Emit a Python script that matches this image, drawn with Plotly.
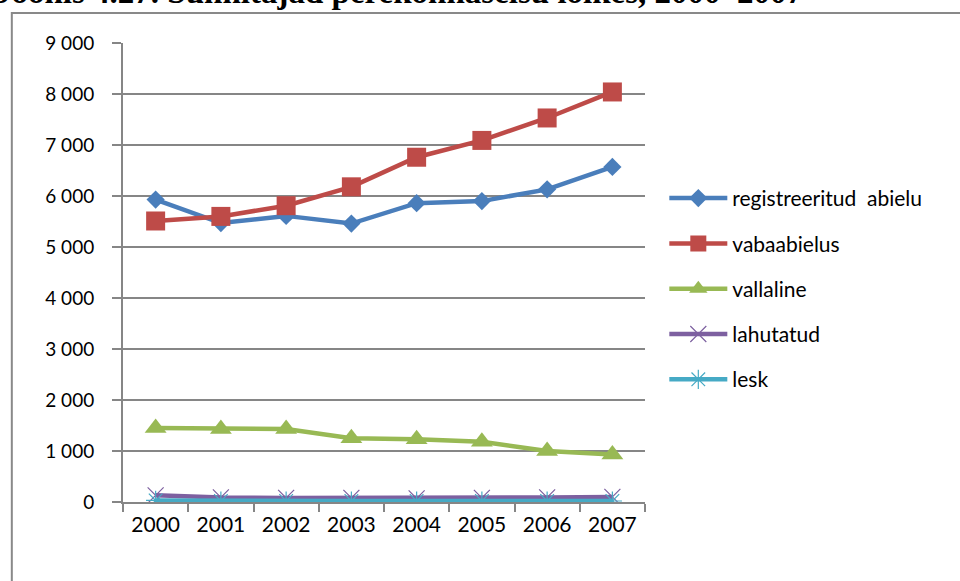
import plotly.graph_objects as go

# Births by mother's marital status, 2000-2007
years = ["2000", "2001", "2002", "2003", "2004", "2005", "2006", "2007"]
registreeritud_abielu = [5930, 5470, 5610, 5460, 5860, 5900, 6130, 6570]
vabaabielus = [5510, 5600, 5810, 6180, 6760, 7090, 7530, 8040]
vallaline = [1450, 1430, 1430, 1250, 1230, 1180, 1000, 930]
lahutatud = [130, 90, 80, 80, 70, 80, 90, 100]
lesk = [30, 20, 20, 20, 20, 20, 20, 20]

y_ticks = [0, 1000, 2000, 3000, 4000, 5000, 6000, 7000, 8000, 9000]
y_tick_text = ["0", "1 000", "2 000", "3 000", "4 000", "5 000", "6 000", "7 000", "8 000", "9 000"]

title_text = "Joonis 4.27. Sünnitajad perekonnaseisu lõikes, 2000–2007"

FONT = "Lato"

series = [
    ("registreeritud  abielu", registreeritud_abielu, "#4A7EBB", dict(symbol="diamond", size=14)),
    ("vabaabielus", vabaabielus, "#BE4B48", dict(symbol="square", size=19)),
    ("vallaline", vallaline, "#98B954", dict(symbol="triangle-up", size=19)),
    ("lahutatud", lahutatud, "#7D60A0", dict(symbol="x-thin-open", size=16, line=dict(width=1.2, color="#9C87BD"))),
    ("lesk", lesk, "#46AAC5", dict(symbol="asterisk-open", size=16, line=dict(width=1.2, color="#46AAC5"))),
]

fig = go.Figure()
for i, (name, vals, color, marker) in enumerate(series):
    m = dict(color=color)
    m.update(marker)
    fig.add_trace(go.Scatter(
        x=years, y=vals, name=name, mode="lines+markers",
        line=dict(color=color, width=4.5),
        marker=m, legendgroup=f"g{i}",
    ))

fig.update_layout(
    width=960, height=581,
    margin=dict(l=123, r=315, t=43, b=79),
    paper_bgcolor="white", plot_bgcolor="white",
    font=dict(family=FONT, size=18, color="#000000"),
    showlegend=True,
    legend=dict(
        x=1.037, y=0.706, xanchor="left", yanchor="top",
        font=dict(family=FONT, size=21, color="#000000"),
        tracegroupgap=15, itemwidth=58,
        bgcolor="rgba(0,0,0,0)",
    ),
    xaxis=dict(
        type="category", showgrid=False, showline=True, linecolor="#868686", linewidth=2,
        ticks="outside", tickson="boundaries", ticklen=8, tickcolor="#868686", tickwidth=2,
        tickfont=dict(family=FONT, size=21), ticklabelstandoff=3,
        range=[-0.5, 7.5],
    ),
    yaxis=dict(
        range=[0, 9000], tickvals=y_ticks, ticktext=y_tick_text,
        showgrid=True, gridcolor="#868686", gridwidth=1.5,
        showline=True, linecolor="#868686", linewidth=2,
        ticks="outside", ticklen=9, tickcolor="#868686", tickwidth=1.5,
        tickfont=dict(family=FONT, size=19), ticklabelstandoff=14,
        zeroline=False,
    ),
    shapes=[dict(
        type="rect", xref="paper", yref="paper",
        x0=-0.213, x1=1.7, y0=-0.5, y1=1.0654,
        line=dict(color="#898989", width=2), fillcolor="rgba(0,0,0,0)", layer="below",
    )],
    annotations=[dict(
        text=f"<b>{title_text}</b>", xref="paper", yref="paper",
        x=-0.25, y=1.068, xanchor="left", yanchor="bottom", showarrow=False,
        font=dict(family="Liberation Serif", size=33, color="#000000"),
    )],
)

fig.write_html("out.html")
